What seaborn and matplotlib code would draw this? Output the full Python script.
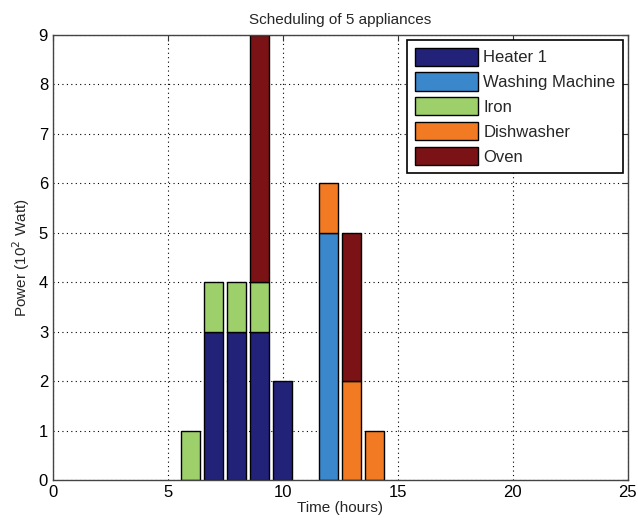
import matplotlib
matplotlib.use("Agg")
import matplotlib.pyplot as plt
import seaborn as sns
import pandas as pd

# Hourly power draw of each appliance (units of 100 W)
hours = [6, 7, 8, 9, 10, 11, 12, 13, 14]
heater = [0, 3, 3, 3, 2, 0, 0, 0, 0]
washing = [0, 0, 0, 0, 0, 0, 5, 0, 0]
iron = [1, 1, 1, 1, 0, 0, 0, 0, 0]
dishwasher = [0, 0, 0, 0, 0, 0, 1, 2, 1]
oven = [0, 0, 0, 5, 0, 0, 0, 3, 0]

series = [
    ("Heater 1", heater, "#222279"),
    ("Washing Machine", washing, "#3b87cb"),
    ("Iron", iron, "#9dcf6b"),
    ("Dishwasher", dishwasher, "#f27a22"),
    ("Oven", oven, "#7b1316"),
]

sns.set_style("white")
plt.rcParams["font.family"] = ["Liberation Sans", "DejaVu Sans"]

fig = plt.figure(figsize=(6.38, 5.31), dpi=100)
ax = fig.add_axes([0.083, 0.096, 0.901, 0.838])

bottom = [0] * len(hours)
handles = []
for name, vals, color in series:
    df = pd.DataFrame({"hour": hours, "power": vals})
    n_before = len(ax.patches)
    sns.barplot(data=df, x="hour", y="power", native_scale=True, ax=ax,
                color=color, saturation=1, width=0.82, bottom=bottom,
                edgecolor="black", linewidth=1.0, errorbar=None)
    for p in ax.patches[n_before:]:
        if p.get_height() == 0:
            p.set_visible(False)
    handles.append(plt.Rectangle((0, 0), 1, 1, facecolor=color,
                                 edgecolor="black", linewidth=1.0, label=name))
    bottom = [b + v for b, v in zip(bottom, vals)]

ax.set_xlim(0, 25)
ax.set_ylim(0, 9)
ax.set_xticks([0, 5, 10, 15, 20, 25])
ax.set_yticks(range(0, 10))
ax.grid(True, color="black", linestyle=(0, (1, 3)), linewidth=0.8)
ax.set_axisbelow(True)
ax.tick_params(direction="in", top=True, right=True, length=4,
               labelsize=12, colors="#333333", labelcolor="black")
for s in ax.spines.values():
    s.set_color("#444444")
    s.set_linewidth(1.0)

ax.set_xlabel("Time (hours)", fontsize=11, labelpad=1)
ax.set_ylabel("Power (10$^2$ Watt)", fontsize=11, labelpad=5)
ax.set_title("Scheduling of 5 appliances", fontsize=11, pad=8)

leg = ax.legend(handles=handles, loc="upper right", fontsize=12,
                handlelength=3.8, handleheight=1.3, handletextpad=0.3,
                labelspacing=0.4, borderpad=0.45, borderaxespad=0.3,
                frameon=True, fancybox=False, edgecolor="black",
                framealpha=1)
leg.get_frame().set_linewidth(1.2)

fig.savefig("out.png", dpi=100)
